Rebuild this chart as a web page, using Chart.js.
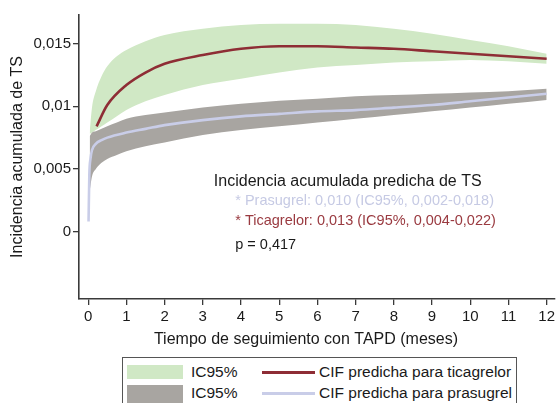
<!DOCTYPE html>
<html>
<head>
<meta charset="utf-8">
<script src="https://cdn.jsdelivr.net/npm/chart.js@4"></script>
<style>
  html, body { margin: 0; padding: 0; background: #fff; }
  body { width: 558px; height: 403px; position: relative; overflow: hidden; font-family: "Liberation Sans", Arial, sans-serif; }
  #wrap { position: absolute; left: 0; top: 0; width: 558px; height: 352px; }
  .lg { position: absolute; }
  .lgtext { position: absolute; font-size: 15.5px; color: #1a1a1a; line-height: 18px; white-space: nowrap; }
</style>
</head>
<body>
<div id="wrap"><canvas id="c"></canvas></div>
<div class="lg" style="left:122px; top:357px; width:393px; height:60px; border:1px solid #555;"></div>
<div class="lg" style="left:127px; top:365px; width:56px; height:14px; background:#d0e8c5;"></div>
<div class="lg" style="left:127px; top:385px; width:56px; height:18px; background:#a8a5a1;"></div>
<div class="lgtext" style="left:191px; top:363px;">IC95%</div>
<div class="lgtext" style="left:191px; top:384px;">IC95%</div>
<div class="lg" style="left:262px; top:371px; width:53px; height:3px; background:#8e2d35;"></div>
<div class="lg" style="left:262px; top:392px; width:53px; height:3px; background:#c9cde8;"></div>
<div class="lgtext" style="left:319px; top:363px;">CIF predicha para ticagrelor</div>
<div class="lgtext" style="left:319px; top:384px;">CIF predicha para prasugrel</div>
<script>
// ---- data ----
const bandMonths = [0.04, 0.1, 0.2, 0.35, 0.5, 0.75, 1, 1.5, 2, 3, 4, 5, 6, 7, 8, 9, 10, 11, 12];
const ticaUpper = [0.0079, 0.0099, 0.0112, 0.0124, 0.0132, 0.0140, 0.0145, 0.0152, 0.0157, 0.0162, 0.0165, 0.0166, 0.0166, 0.0165, 0.0162, 0.0158, 0.0153, 0.0148, 0.0142];
const ticaLower = [0.0078, 0.0079, 0.0081, 0.0084, 0.0087, 0.0092, 0.0097, 0.0104, 0.0109, 0.0117, 0.0122, 0.0127, 0.0131, 0.0133, 0.0135, 0.0136, 0.0137, 0.0136, 0.0134];
const prasUpper = [0.0076, 0.0079, 0.0080, 0.0082, 0.0084, 0.0087, 0.0090, 0.0093, 0.0095, 0.0099, 0.0102, 0.01045, 0.0106, 0.0108, 0.0109, 0.0110, 0.0111, 0.0112, 0.0114];
const prasLower = [0.0032, 0.0044, 0.0050, 0.0055, 0.0058, 0.0061, 0.0064, 0.0068, 0.0071, 0.0077, 0.0081, 0.0084, 0.0087, 0.0090, 0.0093, 0.0096, 0.0099, 0.0102, 0.0105];
const ticaMonths = [0.22, 0.5, 1, 1.5, 2, 3, 4, 5, 6, 7, 8, 9, 10, 11, 12];
const ticaCIF = [0.0084, 0.0101, 0.0117, 0.0127, 0.0134, 0.0141, 0.0146, 0.0148, 0.0148, 0.0147, 0.0146, 0.0144, 0.0142, 0.0140, 0.0138];
const prasMonths = [0.01, 0.03, 0.06, 0.1, 0.2, 0.35, 0.5, 1, 1.5, 2, 3, 4, 5, 6, 7, 8, 9, 10, 11, 12];
const prasCIF = [0.0008, 0.0045, 0.0058, 0.0065, 0.0070, 0.0073, 0.0075, 0.0079, 0.0082, 0.0085, 0.0089, 0.0092, 0.0094, 0.0096, 0.0097, 0.0099, 0.0101, 0.0104, 0.0107, 0.0110];
const xTicks = [0, 1, 2, 3, 4, 5, 6, 7, 8, 9, 10, 11, 12];
const yTicks = [0, 0.005, 0.01, 0.015];
const yTickLabels = ['0', '0,005', '0,01', '0,015'];
const noteTitle = 'Incidencia acumulada predicha de TS';
const notePras = '* Prasugrel: 0,010 (IC95%, 0,002-0,018)';
const noteTica = '* Ticagrelor: 0,013 (IC95%, 0,004-0,022)';
const noteP = 'p = 0,417';
const xTitle = 'Tiempo de seguimiento con TAPD (meses)';
const yTitle = 'Incidencia acumulada de TS';

const pts = (xs, ys) => xs.map((x, i) => ({ x: x, y: ys[i] }));
const FONT = '"Liberation Sans", Arial, sans-serif';
const AX = '#3a3a3a';

const notes = {
  id: 'notes',
  afterDraw(chart) {
    const ctx = chart.ctx, xs = chart.scales.x, ys = chart.scales.y;
    ctx.save();
    ctx.textBaseline = 'middle';
    ctx.textAlign = 'left';
    ctx.font = '16px ' + FONT;
    ctx.fillStyle = '#1a1a1a';
    ctx.fillText(noteTitle, xs.getPixelForValue(3.29), ys.getPixelForValue(0.0040));
    ctx.font = '14.5px ' + FONT;
    ctx.fillStyle = '#c6cae4';
    ctx.fillText(notePras, xs.getPixelForValue(3.85), ys.getPixelForValue(0.0024));
    ctx.fillStyle = '#9a3a40';
    ctx.fillText(noteTica, xs.getPixelForValue(3.85), ys.getPixelForValue(0.00083));
    ctx.fillStyle = '#1a1a1a';
    ctx.fillText(noteP, xs.getPixelForValue(3.85), ys.getPixelForValue(-0.00112));
    // x axis title
    ctx.font = '16px ' + FONT;
    ctx.textAlign = 'center';
    ctx.fillText(xTitle, 306, 340);
    ctx.restore();
  }
};

new Chart(document.getElementById('c'), {
  type: 'line',
  data: {
    datasets: [
      { data: pts(ticaMonths, ticaCIF), borderColor: '#8e2d35', borderWidth: 2.6, pointRadius: 0, fill: false, cubicInterpolationMode: 'monotone' },
      { data: pts(prasMonths, prasCIF), borderColor: '#c9cde8', borderWidth: 2.6, pointRadius: 0, fill: false, cubicInterpolationMode: 'monotone' },
      { data: pts(bandMonths, prasUpper), borderWidth: 0, borderColor: 'rgba(0,0,0,0)', pointRadius: 0, fill: '+1', backgroundColor: '#a8a5a1', cubicInterpolationMode: 'monotone' },
      { data: pts(bandMonths, prasLower), borderWidth: 0, borderColor: 'rgba(0,0,0,0)', pointRadius: 0, fill: false, cubicInterpolationMode: 'monotone' },
      { data: pts(bandMonths, ticaUpper), borderWidth: 0, borderColor: 'rgba(0,0,0,0)', pointRadius: 0, fill: '+1', backgroundColor: '#d0e8c5', cubicInterpolationMode: 'monotone' },
      { data: pts(bandMonths, ticaLower), borderWidth: 0, borderColor: 'rgba(0,0,0,0)', pointRadius: 0, fill: false, cubicInterpolationMode: 'monotone' }
    ]
  },
  options: {
    responsive: true,
    maintainAspectRatio: false,
    animation: false,
    layout: { padding: { top: 15, right: 0, left: 0, bottom: 0 } },
    plugins: { legend: { display: false }, tooltip: { enabled: false } },
    scales: {
      x: {
        type: 'linear', min: -0.24, max: 12.2,
        afterBuildTicks: s => { s.ticks = xTicks.map(v => ({ value: v })); },
        afterFit: s => { s.height = 53; },
        grid: { display: true, drawOnChartArea: false, drawTicks: true, tickLength: 6, color: AX, lineWidth: 1.3 },
        border: { display: true, color: AX, width: 1.6 },
        ticks: { font: { size: 15, family: FONT }, color: '#1a1a1a', padding: 3, maxRotation: 0, autoSkip: false }
      },
      y: {
        type: 'linear', min: -0.0054, max: 0.0173,
        afterBuildTicks: s => { s.ticks = yTicks.map(v => ({ value: v })); },
        afterFit: s => { s.width = 79; },
        grid: { display: true, drawOnChartArea: false, drawTicks: true, tickLength: 6, color: AX, lineWidth: 1.3 },
        border: { display: true, color: AX, width: 1.6 },
        ticks: { font: { size: 15, family: FONT }, color: '#1a1a1a', padding: 2,
          callback: (v) => { const i = yTicks.indexOf(v); return i >= 0 ? yTickLabels[i] : ''; } },
        title: { display: true, text: yTitle, font: { size: 16, family: FONT }, color: '#1a1a1a', padding: { top: 8, bottom: 0 } }
      }
    }
  },
  plugins: [notes]
});
</script>
</body>
</html>
